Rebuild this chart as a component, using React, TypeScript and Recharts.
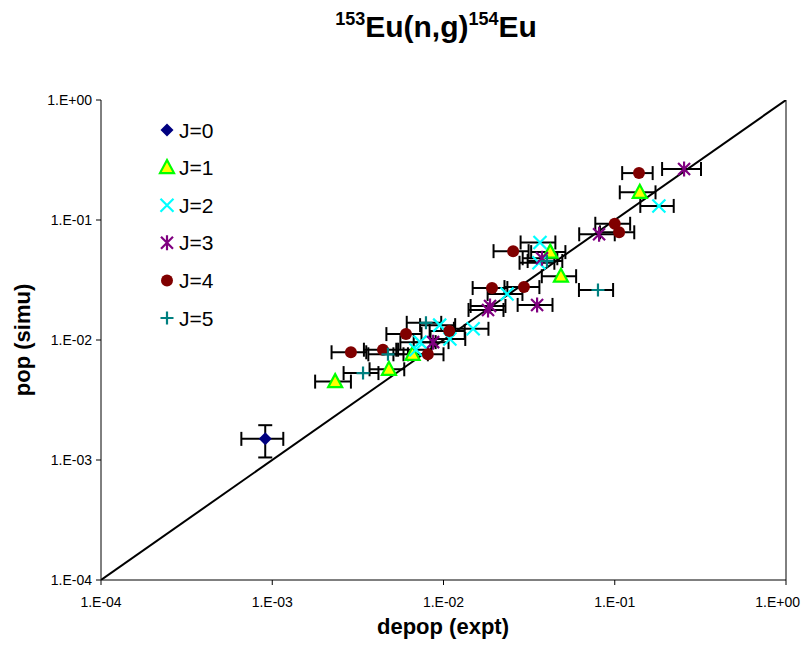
import React from 'react';
import { ScatterChart, Scatter, XAxis, YAxis, ErrorBar, ReferenceLine } from 'recharts';

const tickValues = [1e-4, 1e-3, 1e-2, 1e-1, 1];
const tickLabels = ['1.E-04', '1.E-03', '1.E-02', '1.E-01', '1.E+00'];
const seriesNames = ['J=0', 'J=1', 'J=2', 'J=3', 'J=4', 'J=5'];

const j0Depop = [9.1e-4];
const j0Pop = [1.5e-3];
const j0DepopErr = [2.5e-4];
const j0PopErr = [4.5e-4];

const j1Depop = [2.33e-3, 4.8e-3, 6.6e-3, 4.2e-2, 4.85e-2, 0.14];
const j1Pop = [4.5e-3, 5.7e-3, 7.6e-3, 5.4e-2, 3.4e-2, 0.17];
const j1Err = [5.5e-4, 1.1e-3, 1.5e-3, 9.5e-3, 1.1e-2, 3.3e-2];

const j2Depop = [6.9e-3, 7.3e-3, 9.5e-3, 1.09e-2, 1.49e-2, 2.35e-2, 3.66e-2, 3.61e-2, 0.181];
const j2Pop = [8.3e-3, 9.6e-3, 1.33e-2, 1.02e-2, 1.24e-2, 2.42e-2, 6.5e-2, 4.4e-2, 0.131];
const j2Err = [1.6e-3, 1.7e-3, 2.2e-3, 2.5e-3, 3.4e-3, 5.4e-3, 8.4e-3, 8.3e-3, 4.0e-2];

const j3Depop = [8.7e-3, 1.87e-2, 1.82e-2, 3.52e-2, 3.76e-2, 8.1e-2, 0.254];
const j3Pop = [9.6e-3, 1.92e-2, 1.78e-2, 1.96e-2, 4.8e-2, 7.6e-2, 0.266];
const j3Err = [2.0e-3, 4.3e-3, 4.2e-3, 8.1e-3, 8.6e-3, 1.9e-2, 6.5e-2];

const j4Depop = [2.88e-3, 4.43e-3, 6.04e-3, 8.1e-3, 1.08e-2, 1.92e-2, 2.55e-2, 2.95e-2, 0.1, 0.106, 0.1385];
const j4Pop = [7.9e-3, 8.3e-3, 1.12e-2, 7.6e-3, 1.19e-2, 2.71e-2, 5.5e-2, 2.76e-2, 9.3e-2, 7.9e-2, 0.246];
const j4Err = [6.6e-4, 1.0e-3, 1.4e-3, 1.9e-3, 2.5e-3, 4.4e-3, 5.9e-3, 6.8e-3, 2.3e-2, 2.4e-2, 2.8e-2];

const j5Depop = [3.39e-3, 4.74e-3, 7.9e-3, 4.02e-2, 7.98e-2];
const j5Pop = [5.3e-3, 7.6e-3, 1.39e-2, 4.55e-2, 2.61e-2];
const j5Err = [7.8e-4, 1.1e-3, 1.8e-3, 9.2e-3, 1.8e-2];

const diagX = [1e-4, 1];
const diagY = [1e-4, 1];

const build = (xs: number[], ys: number[], ex: number[], ey?: number[]) =>
  xs.map((x, i) => ({ x, y: ys[i], ex: ex[i], ey: ey ? ey[i] : 0 }));

const j0Data = build(j0Depop, j0Pop, j0DepopErr, j0PopErr);
const j1Data = build(j1Depop, j1Pop, j1Err);
const j2Data = build(j2Depop, j2Pop, j2Err);
const j3Data = build(j3Depop, j3Pop, j3Err);
const j4Data = build(j4Depop, j4Pop, j4Err);
const j5Data = build(j5Depop, j5Pop, j5Err);
const diagData = diagX.map((x, i) => ({ x, y: diagY[i] }));

const FONT = '"Liberation Sans", Arial, sans-serif';

const Diamond = (p: any) => (
  <path
    d={`M${p.cx},${p.cy - 6.5}L${p.cx + 6.5},${p.cy}L${p.cx},${p.cy + 6.5}L${p.cx - 6.5},${p.cy}Z`}
    fill="#000080"
  />
);
const Triangle = (p: any) => (
  <path
    d={`M${p.cx},${p.cy - 7.5}L${p.cx + 7},${p.cy + 5.5}L${p.cx - 7},${p.cy + 5.5}Z`}
    fill="#FFFF00"
    stroke="#00FF00"
    strokeWidth={2.2}
  />
);
const Cross = (p: any) => (
  <path
    d={`M${p.cx - 6.5},${p.cy - 6.5}L${p.cx + 6.5},${p.cy + 6.5}M${p.cx - 6.5},${p.cy + 6.5}L${p.cx + 6.5},${p.cy - 6.5}`}
    stroke="#00FFFF"
    strokeWidth={2.2}
    fill="none"
  />
);
const Star = (p: any) => (
  <path
    d={`M${p.cx - 6},${p.cy - 6}L${p.cx + 6},${p.cy + 6}M${p.cx - 6},${p.cy + 6}L${p.cx + 6},${p.cy - 6}M${p.cx},${p.cy - 7.5}L${p.cx},${p.cy + 7.5}`}
    stroke="#800080"
    strokeWidth={2.2}
    fill="none"
  />
);
const Dot = (p: any) => <circle cx={p.cx} cy={p.cy} r={6} fill="#800000" />;
const Plus = (p: any) => (
  <path
    d={`M${p.cx - 6.5},${p.cy}L${p.cx + 6.5},${p.cy}M${p.cx},${p.cy - 6.5}L${p.cx},${p.cy + 6.5}`}
    stroke="#008080"
    strokeWidth={2.2}
    fill="none"
  />
);
const NoShape = () => <g />;

const shapes = [Diamond, Triangle, Cross, Star, Dot, Plus];

const fmt = (v: number) => {
  const i = tickValues.findIndex((t) => Math.abs(Math.log10(t) - Math.log10(v)) < 1e-6);
  return i >= 0 ? tickLabels[i] : '';
};

const XTick = (props: any) => {
  const { x, y, payload, index } = props;
  const last = index === tickValues.length - 1;
  return (
    <text
      x={last ? 800 : x}
      y={y}
      dy="0.71em"
      textAnchor={last ? 'end' : 'middle'}
      fontFamily={FONT}
      fontSize={14}
      fill="#000"
    >
      {fmt(payload.value)}
    </text>
  );
};

const errProps = { stroke: '#000', strokeWidth: 2, width: 7 };

export default function App() {
  return (
    <div style={{ position: 'absolute', left: 0, top: 0, width: 801, height: 654, background: '#fff' }}>
      <ScatterChart width={801} height={654} margin={{ top: 100, right: 15, bottom: 0, left: 0 }}>
        <XAxis
          dataKey="x"
          type="number"
          scale="log"
          domain={[1e-4, 1]}
          allowDataOverflow
          ticks={tickValues}
          height={74}
          tickSize={5}
          tickMargin={12}
          axisLine={{ stroke: '#000', strokeWidth: 1 }}
          tickLine={{ stroke: '#000' }}
          tick={<XTick />}
        />
        <YAxis
          dataKey="y"
          type="number"
          scale="log"
          domain={[1e-4, 1]}
          allowDataOverflow
          ticks={tickValues}
          tickFormatter={fmt}
          width={101}
          tickSize={5}
          tickMargin={4}
          axisLine={{ stroke: '#000', strokeWidth: 1 }}
          tickLine={{ stroke: '#000' }}
          tick={{ fontSize: 14, fill: '#000', fontFamily: FONT }}
        />
        <ReferenceLine x={1} stroke="#000" strokeWidth={1} ifOverflow="visible" />
        <Scatter
          data={diagData}
          line={{ stroke: '#000', strokeWidth: 2 }}
          shape={NoShape}
          isAnimationActive={false}
        />
        <Scatter data={j0Data} shape={Diamond} isAnimationActive={false}>
          <ErrorBar dataKey="ex" direction="x" {...errProps} />
          <ErrorBar dataKey="ey" direction="y" {...errProps} />
        </Scatter>
        <Scatter data={j1Data} shape={Triangle} isAnimationActive={false}>
          <ErrorBar dataKey="ex" direction="x" {...errProps} />
        </Scatter>
        <Scatter data={j2Data} shape={Cross} isAnimationActive={false}>
          <ErrorBar dataKey="ex" direction="x" {...errProps} />
        </Scatter>
        <Scatter data={j3Data} shape={Star} isAnimationActive={false}>
          <ErrorBar dataKey="ex" direction="x" {...errProps} />
        </Scatter>
        <Scatter data={j4Data} shape={Dot} isAnimationActive={false}>
          <ErrorBar dataKey="ex" direction="x" {...errProps} />
        </Scatter>
        <Scatter data={j5Data} shape={Plus} isAnimationActive={false}>
          <ErrorBar dataKey="ex" direction="x" {...errProps} />
        </Scatter>
      </ScatterChart>
      <svg
        width={801}
        height={654}
        style={{ position: 'absolute', left: 0, top: 0, pointerEvents: 'none' }}
      >
        <text x={436} y={37} textAnchor="middle" fontFamily={FONT} fontWeight="bold" fontSize={30} fill="#000">
          <tspan fontSize={18} dy={-12}>153</tspan>
          <tspan dy={12}>Eu(n,g)</tspan>
          <tspan fontSize={18} dy={-12}>154</tspan>
          <tspan dy={12}>Eu</tspan>
        </text>
        <text x={443} y={634} textAnchor="middle" fontFamily={FONT} fontWeight="bold" fontSize={22} fill="#000">
          depop (expt)
        </text>
        <text
          x={0}
          y={0}
          transform="translate(30,340) rotate(-90)"
          textAnchor="middle"
          fontFamily={FONT}
          fontWeight="bold"
          fontSize={22}
          fill="#000"
        >
          pop (simu)
        </text>
        {seriesNames.map((name, i) => {
          const Shape = shapes[i];
          const cy = 130 + 37.6 * i;
          return (
            <g key={name}>
              <Shape cx={167} cy={cy} />
              <text x={179} y={cy + 7.5} fontFamily={FONT} fontSize={21} fill="#000">
                {name}
              </text>
            </g>
          );
        })}
      </svg>
    </div>
  );
}
